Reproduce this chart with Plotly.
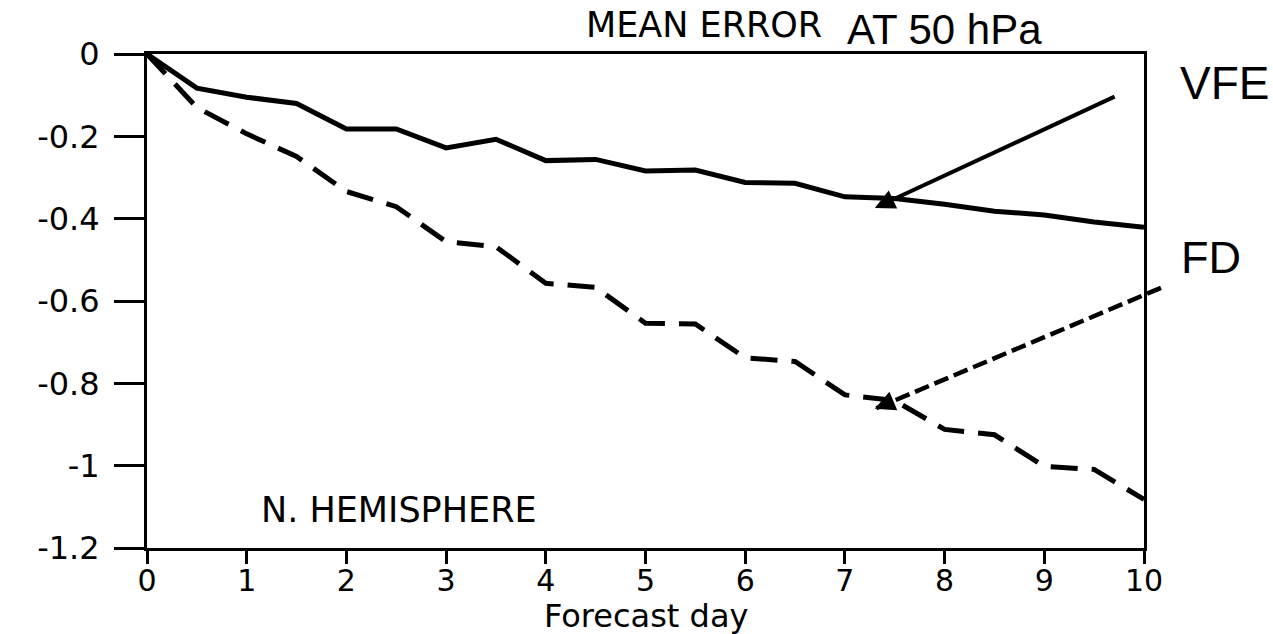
import plotly.graph_objects as go

# ---- data ----
days = [0, 0.5, 1, 1.5, 2, 2.5, 3, 3.5, 4, 4.5, 5, 5.5, 6, 6.5, 7, 7.5, 8, 8.5, 9, 9.5, 10]
vfe = [0, -0.083, -0.105, -0.12, -0.182, -0.182, -0.228, -0.207, -0.259, -0.256, -0.284,
       -0.282, -0.312, -0.314, -0.347, -0.351, -0.365, -0.382, -0.391, -0.408, -0.421]
fd = [0, -0.13, -0.194, -0.249, -0.334, -0.371, -0.456, -0.468, -0.557, -0.567, -0.654,
      -0.656, -0.738, -0.747, -0.828, -0.842, -0.912, -0.925, -1.002, -1.009, -1.082]
x_ticks = list(range(0, 11))
y_ticks = [0, -0.2, -0.4, -0.6, -0.8, -1, -1.2]
y_tick_labels = ["0", "-0.2", "-0.4", "-0.6", "-0.8", "-1", "-1.2"]
x_range = [0, 10]
y_range = [-1.2, 0]

# arrows (tail -> tip), data coordinates
vfe_arrow_tail = (9.72, -0.102)
vfe_arrow_tip = (7.3, -0.374)
fd_arrow_tail = (10.17, -0.568)
fd_arrow_tip = (7.3, -0.862)

MAIN_FONT = "DejaVu Sans"
NARROW_FONT = "Liberation Sans"

fig = go.Figure()
fig.add_trace(go.Scatter(x=days, y=vfe, mode="lines", name="VFE",
                         line=dict(color="black", width=5)))
fig.add_trace(go.Scatter(x=days, y=fd, mode="lines", name="FD",
                         line=dict(color="black", width=5, dash="27px,14px")))

def to_domain(pt):
    return ((pt[0] - x_range[0]) / (x_range[1] - x_range[0]),
            (pt[1] - y_range[0]) / (y_range[1] - y_range[0]))

# dashed FD pointer line (not clipped by plot area)
t0 = to_domain(fd_arrow_tail)
t1 = to_domain(fd_arrow_tip)
fig.add_shape(type="line", xref="x domain", yref="y domain",
              x0=t0[0], y0=t0[1], x1=t1[0], y1=t1[1],
              line=dict(color="black", width=4.5, dash="15px,6px"))

annotations = []
# VFE solid arrow
annotations.append(dict(x=vfe_arrow_tip[0], y=vfe_arrow_tip[1], xref="x", yref="y",
                        ax=vfe_arrow_tail[0], ay=vfe_arrow_tail[1], axref="x", ayref="y",
                        text="", showarrow=True, arrowhead=2, arrowsize=1.0,
                        arrowwidth=4, arrowcolor="black"))
# FD arrow head only
frac = 0.04
annotations.append(dict(x=fd_arrow_tip[0], y=fd_arrow_tip[1], xref="x", yref="y",
                        ax=fd_arrow_tip[0] + frac * (fd_arrow_tail[0] - fd_arrow_tip[0]),
                        ay=fd_arrow_tip[1] + frac * (fd_arrow_tail[1] - fd_arrow_tip[1]),
                        axref="x", ayref="y",
                        text="", showarrow=True, arrowhead=2, arrowsize=1.15,
                        arrowwidth=3.5, arrowcolor="black"))

# plot area in pixels: x 147..1144, y 54..548
def px(xp):
    return (xp - 147) / 997.0

def py(yp):
    return (548 - yp) / 494.0

annotations += [
    dict(text="MEAN ERROR", x=px(824), y=py(25), xref="paper", yref="paper",
         xanchor="right", yanchor="middle", showarrow=False,
         font=dict(family=MAIN_FONT, size=35, color="black")),
    dict(text="AT 50 hPa", x=px(845), y=py(30), xref="paper", yref="paper",
         xanchor="left", yanchor="middle", showarrow=False,
         font=dict(family=NARROW_FONT, size=42, color="black")),
    dict(text="VFE", x=px(1224), y=py(83.5), xref="paper", yref="paper",
         xanchor="center", yanchor="middle", showarrow=False,
         font=dict(family=NARROW_FONT, size=46, color="black")),
    dict(text="FD", x=px(1211), y=py(257.5), xref="paper", yref="paper",
         xanchor="center", yanchor="middle", showarrow=False,
         font=dict(family=NARROW_FONT, size=45, color="black")),
    dict(text="N. HEMISPHERE", x=px(399), y=py(509.5), xref="paper", yref="paper",
         xanchor="center", yanchor="middle", showarrow=False,
         font=dict(family=MAIN_FONT, size=35, color="black")),
    dict(text="Forecast day", x=px(646), y=py(616), xref="paper", yref="paper",
         xanchor="center", yanchor="middle", showarrow=False,
         font=dict(family=MAIN_FONT, size=32, color="black")),
]

fig.update_layout(
    width=1273, height=634,
    margin=dict(l=147, r=129, t=54, b=86, pad=0),
    paper_bgcolor="white", plot_bgcolor="white",
    showlegend=False,
    annotations=annotations,
    xaxis=dict(range=x_range, tickvals=x_ticks, ticks="outside", ticklen=13, tickwidth=3,
               tickcolor="black", showline=True, linecolor="black", linewidth=3,
               mirror=True, showgrid=False, zeroline=False, ticklabelstandoff=-9,
               tickfont=dict(family=MAIN_FONT, size=30, color="black")),
    yaxis=dict(range=y_range, tickvals=y_ticks, ticktext=y_tick_labels,
               ticks="outside", ticklen=30, tickwidth=2.5, tickcolor="black",
               showline=True, linecolor="black", linewidth=3, mirror=True,
               showgrid=False, zeroline=False, ticklabelstandoff=8,
               tickfont=dict(family=MAIN_FONT, size=32, color="black")),
)

fig.write_html("out.html")
